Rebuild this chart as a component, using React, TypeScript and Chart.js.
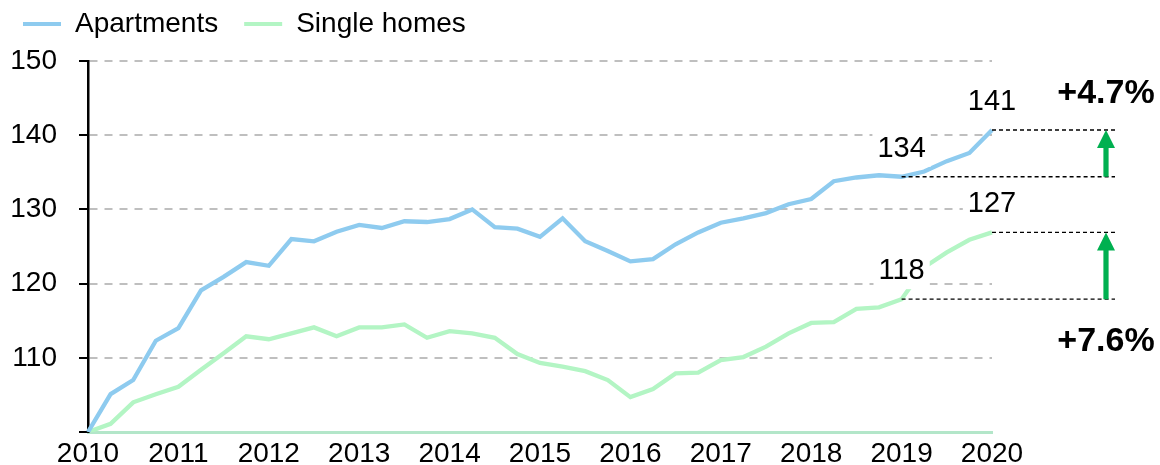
import React, { useEffect, useRef } from 'react';
import { Chart, registerables } from 'chart.js';

Chart.register(...registerables);

const FONT = '"Liberation Sans", Arial, sans-serif';

// Tick labels of the category axis (one per year, first quarter)
const years = ['2010', '2011', '2012', '2013', '2014', '2015', '2016', '2017', '2018', '2019', '2020'];
const quarters = ['Q1', 'Q2', 'Q3', 'Q4'];
const categories = years.flatMap((yr) => (yr === '2020' ? [`${yr} Q1`] : quarters.map((q) => `${yr} ${q}`)));

const seriesNames = ['Apartments', 'Single homes'];
const seriesColors = ['#8ecbef', '#b3f5c4'];

const apartments = [
  100, 105.1, 107.0, 112.3, 114.0, 119.1, 120.9, 122.9, 122.4, 126.0,
  125.7, 127.0, 127.9, 127.5, 128.4, 128.3, 128.7, 130.0, 127.6, 127.4,
  126.3, 128.8, 125.7, 124.4, 123.0, 123.3, 125.3, 126.9, 128.2, 128.8,
  129.5, 130.7, 131.4, 133.8, 134.3, 134.6, 134.4, 135.1, 136.5, 137.6,
  140.7,
];
const singleHomes = [
  100, 101.1, 104.0, 105.1, 106.1, 108.4, 110.6, 112.9, 112.5, 113.3,
  114.1, 112.9, 114.1, 114.1, 114.5, 112.7, 113.6, 113.3, 112.7, 110.5,
  109.3, 108.8, 108.2, 107.0, 104.7, 105.8, 107.9, 108.0, 109.7, 110.1,
  111.5, 113.3, 114.7, 114.8, 116.6, 116.8, 117.9, 122.2, 124.2, 125.9,
  126.9,
];

const yMin = 100;
const yMax = 150;
const yStep = 10;
const hiddenYTickLabels = [100];

const compareFrom = '2019 Q1';
const compareTo = '2020 Q1';

const annotationPlugin = {
  id: 'changeAnnotations',
  afterDatasetsDraw(chart: any) {
    const { ctx, chartArea, scales } = chart;
    const xs = scales.x;
    const ys = scales.y;
    const i0 = categories.indexOf(compareFrom);
    const i1 = categories.indexOf(compareTo);
    const x0 = xs.getPixelForValue(i0);
    const x1 = xs.getPixelForValue(i1);
    const arrowX = chartArea.right + 114;
    const lineEnd = chartArea.right + 123;

    chart.data.datasets.forEach((ds: any, di: number) => {
      const v0 = ds.data[i0];
      const v1 = ds.data[i1];
      const y0 = ys.getPixelForValue(v0);
      const y1 = ys.getPixelForValue(v1);

      // dashed reference lines
      ctx.save();
      ctx.setLineDash([4, 3]);
      ctx.lineWidth = 1.3;
      ctx.strokeStyle = '#000';
      ctx.beginPath();
      ctx.moveTo(x0, y0);
      ctx.lineTo(lineEnd, y0);
      ctx.moveTo(x1, y1);
      ctx.lineTo(lineEnd, y1);
      ctx.stroke();
      ctx.restore();

      // value labels with white background
      ctx.save();
      ctx.font = `29px ${FONT}`;
      ctx.textAlign = 'center';
      ctx.textBaseline = 'middle';
      [[x0, y0, v0], [x1, y1, v1]].forEach(([px, py, v]) => {
        const txt = String(Math.round(v));
        const w = ctx.measureText(txt).width;
        const cy = py - 28;
        ctx.fillStyle = '#fff';
        ctx.fillRect(px - w / 2 - 5, cy - 18, w + 10, 36);
        ctx.fillStyle = '#000';
        ctx.fillText(txt, px, cy);
      });
      ctx.restore();

      // green arrow from y0 up to y1
      const headLen = 18;
      const headHalf = 9;
      const shaftHalf = 2.6;
      ctx.save();
      ctx.fillStyle = '#00b050';
      ctx.beginPath();
      ctx.moveTo(arrowX - shaftHalf, y0);
      ctx.lineTo(arrowX - shaftHalf, y1 + headLen);
      ctx.lineTo(arrowX - headHalf, y1 + headLen);
      ctx.lineTo(arrowX, y1);
      ctx.lineTo(arrowX + headHalf, y1 + headLen);
      ctx.lineTo(arrowX + shaftHalf, y1 + headLen);
      ctx.lineTo(arrowX + shaftHalf, y0);
      ctx.closePath();
      ctx.fill();
      ctx.restore();

      // percentage change
      const pct = ((v1 / v0 - 1) * 100).toFixed(1);
      ctx.save();
      ctx.font = `bold 34px ${FONT}`;
      ctx.fillStyle = '#000';
      ctx.textAlign = 'center';
      ctx.textBaseline = 'middle';
      const ty = di === 0 ? y1 - 36.5 : y0 + 42;
      ctx.fillText(`+${pct}%`, arrowX, ty);
      ctx.restore();
    });
  },
};

export default function App() {
  const canvasRef = useRef<HTMLCanvasElement | null>(null);

  useEffect(() => {
    if (!canvasRef.current) return;
    const chart = new Chart(canvasRef.current, {
      type: 'line',
      data: {
        labels: categories,
        datasets: [
          {
            label: seriesNames[0],
            data: apartments,
            borderColor: seriesColors[0],
            backgroundColor: seriesColors[0],
            borderWidth: 4.3,
            pointRadius: 0,
            tension: 0,
            fill: false,
          },
          {
            label: seriesNames[1],
            data: singleHomes,
            borderColor: seriesColors[1],
            backgroundColor: seriesColors[1],
            borderWidth: 4.3,
            pointRadius: 0,
            tension: 0,
            fill: false,
          },
        ],
      },
      options: {
        responsive: false,
        animation: false,
        events: [],
        layout: { padding: { top: -16, left: -3, right: 168, bottom: 0 } },
        plugins: {
          legend: {
            display: true,
            position: 'top',
            align: 'start',
            labels: {
              font: { family: FONT, size: 28 },
              color: '#000',
              boxWidth: 38,
              boxHeight: 4,
              padding: 26,
              generateLabels: (c: any) =>
                c.data.datasets.map((ds: any, i: number) => ({
                  text: ds.label,
                  fillStyle: ds.borderColor,
                  strokeStyle: ds.borderColor,
                  lineWidth: 0,
                  hidden: false,
                  datasetIndex: i,
                  fontColor: '#000',
                })),
            },
          },
          title: {
            display: true,
            text: '',
            position: 'top',
            weight: 500,
            padding: 0,
            font: { size: 13, lineHeight: 1 },
          },
          tooltip: { enabled: false },
        },
        scales: {
          x: {
            type: 'category',
            offset: false,
            grid: { display: false, drawTicks: false },
            border: { display: true, color: '#b3e6c9', width: 3 },
            ticks: {
              autoSkip: false,
              maxRotation: 0,
              minRotation: 0,
              padding: 5,
              color: '#000',
              font: { family: FONT, size: 28 },
              callback: (_v: any, idx: number) => (idx % 4 === 0 ? years[idx / 4] : ''),
            },
            afterFit: (s: any) => {
              s.height = 33;
            },
          },
          y: {
            min: yMin,
            max: yMax,
            grid: {
              color: (c: any) => (c.tick && hiddenYTickLabels.includes(c.tick.value) ? 'rgba(0,0,0,0)' : '#bfbfbf'),
              lineWidth: 2,
              drawTicks: true,
              tickLength: 9,
              tickColor: '#000',
              tickWidth: 2,
            },
            border: { display: true, color: '#000', width: 2.5, dash: [8, 7] },
            ticks: {
              stepSize: yStep,
              padding: 22,
              color: '#000',
              font: { family: FONT, size: 28 },
              callback: (v: any) => (hiddenYTickLabels.includes(v) ? '' : String(v)),
            },
            afterFit: (s: any) => {
              s.width = 91;
              s.paddingTop = 0;
              s.paddingBottom = 0;
            },
          },
        },
      },
      plugins: [annotationPlugin],
    } as any);
    return () => chart.destroy();
  }, []);

  return (
    <div style={{ position: 'fixed', left: 0, top: 0, width: 1160, height: 465, background: '#fff' }}>
      <canvas ref={canvasRef} width={1160} height={465} style={{ display: 'block' }} />
    </div>
  );
}
